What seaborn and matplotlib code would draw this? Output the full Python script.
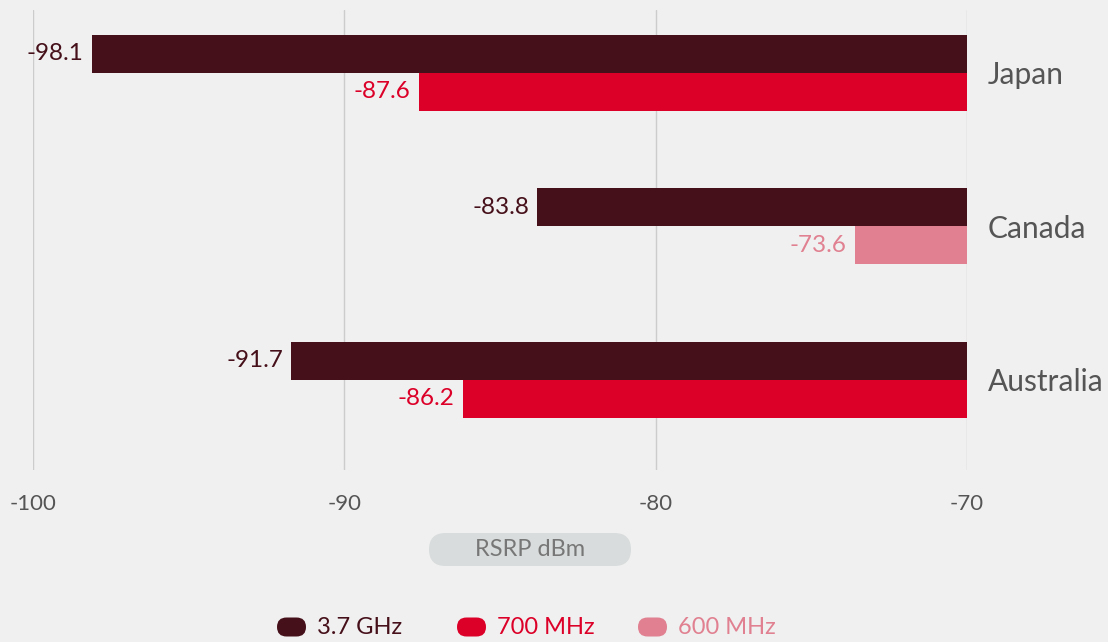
import matplotlib
matplotlib.use("Agg")
import matplotlib.pyplot as plt
from matplotlib.patches import FancyBboxPatch
import pandas as pd
import seaborn as sns

# donnees
countries = ["Japan", "Canada", "Australia"]
upper_band = ["3.7 GHz", "3.7 GHz", "3.7 GHz"]
upper_rsrp = [-98.1, -83.8, -91.7]
lower_band = ["700 MHz", "600 MHz", "700 MHz"]
lower_rsrp = [-87.6, -73.6, -86.2]

legend_bands = ["3.7 GHz", "700 MHz", "600 MHz"]
band_colors = {"3.7 GHz": "#46101a", "700 MHz": "#dc0028", "600 MHz": "#e08090"}
x_ticks = [-100, -90, -80, -70]
x_tick_labels = ["-100", "-90", "-80", "-70"]
axis_title = "RSRP dBm"

BG = "#f0f0f0"

df = pd.DataFrame({
    "country": countries * 2,
    "slot": ["haut"] * 3 + ["bas"] * 3,
    "band": upper_band + lower_band,
    "rsrp": upper_rsrp + lower_rsrp,
})

sns.set_theme(style="white")
plt.rcParams["font.family"] = ["Lato", "DejaVu Sans"]
plt.rcParams["axes.unicode_minus"] = False

fig = plt.figure(figsize=(11.08, 6.42), dpi=100, facecolor=BG)
ax = fig.add_axes([33 / 1108, 1 - 470 / 642, 934 / 1108, 460 / 642])
ax.set_facecolor(BG)

sns.barplot(
    data=df, x="rsrp", y="country", hue="slot", hue_order=["haut", "bas"],
    order=countries, orient="h", width=0.495, errorbar=None, legend=False,
    ax=ax, zorder=3,
)

# couleur par bande + etiquettes de valeur
for container, slot in zip(ax.containers, ["haut", "bas"]):
    sub = df[df["slot"] == slot].set_index("country").loc[countries]
    for bar, (_, row) in zip(container, sub.iterrows()):
        col = band_colors[row["band"]]
        bar.set_facecolor(col)
        bar.set_edgecolor("none")
        y_mid = bar.get_y() + bar.get_height() / 2
        ax.annotate(f"{row['rsrp']:.1f}", xy=(row["rsrp"], y_mid),
                    xytext=(-6, 0), textcoords="offset points",
                    ha="right", va="center", color=col, fontsize=17.5,
                    annotation_clip=False)

ax.set_xlim(-100, -70)
ax.set_ylim(2.587, -0.41)
ax.set_xticks(x_ticks)
ax.set_xticklabels(x_tick_labels)
ax.grid(axis="x", color="#cccccc", linewidth=1, zorder=0)
ax.grid(axis="y", visible=False)
ax.set_axisbelow(True)
for spine in ax.spines.values():
    spine.set_visible(False)

ax.yaxis.tick_right()
ax.tick_params(axis="y", length=0, pad=15, labelsize=21.5, labelcolor="#555555")
ax.tick_params(axis="x", length=0, pad=17, labelsize=16, labelcolor="#555555")
ax.set_xlabel("")
ax.set_ylabel("")

# titre d'axe dans une pastille grise
inch = fig.dpi_scale_trans
fig.patches.append(FancyBboxPatch(
    (4.29, (642 - 566) / 100), 2.02, 0.33,
    boxstyle="round,pad=0,rounding_size=0.165",
    facecolor="#d9dcdc", edgecolor="none", transform=inch, figure=fig))
fig.text(5.30, (642 - 550) / 100, axis_title, transform=inch,
         ha="center", va="center", fontsize=17, color="#777777")

# legende manuelle avec pastilles arrondies
legend_x = [2.77, 4.57, 6.38]
for band, x0 in zip(legend_bands, legend_x):
    fig.patches.append(FancyBboxPatch(
        (x0, 0.055), 0.29, 0.19,
        boxstyle="round,pad=0,rounding_size=0.095",
        facecolor=band_colors[band], edgecolor="none", transform=inch, figure=fig))
    fig.text(x0 + 0.40, 0.145, band, transform=inch, ha="left", va="center",
             fontsize=17, color=band_colors[band])

fig.savefig("out.png", dpi=100, facecolor=BG)
